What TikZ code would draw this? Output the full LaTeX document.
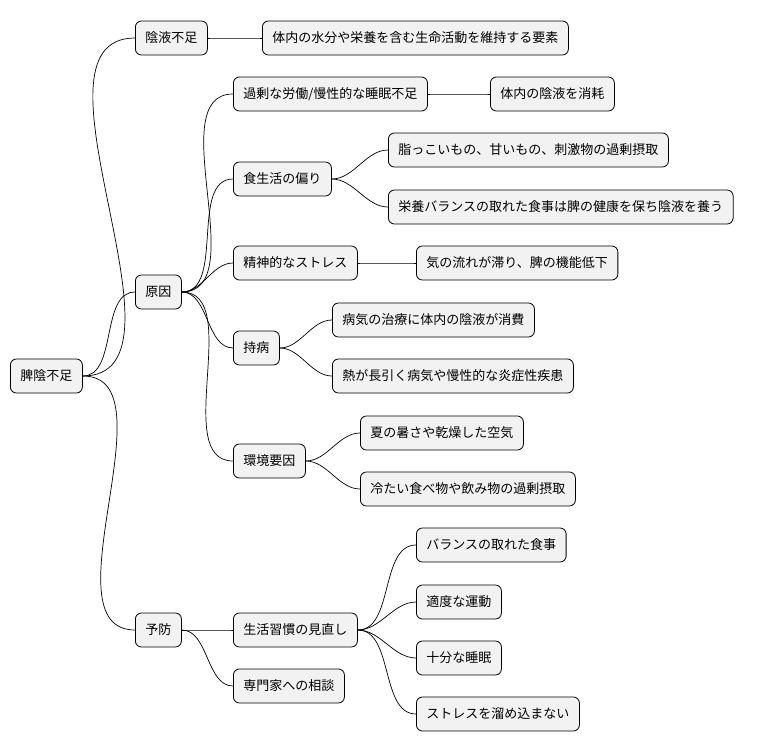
\documentclass[tikz,border=0pt]{standalone}
\usepackage{fontspec}
\newfontfamily\jp{Noto Sans CJK JP}
\begin{document}
\begin{tikzpicture}[x=1pt,y=-1pt,
  b/.style={draw=black,line width=0.8pt,fill=black!5,rounded corners=6pt,anchor=west,
    minimum height=34pt,inner xsep=10pt,font=\jp\fontsize{13}{15}\selectfont},
  l/.style={line width=0.7pt,out=0,in=180,looseness=0.9}]
\useasboundingbox (0,0) rectangle (768,752);
\node[b] (r) at (10,376) {脾陰不足};
\node[b] (a) at (135,38) {陰液不足};
\node[b] (a1) at (262,38) {体内の水分や栄養を含む生命活動を維持する要素};
\node[b] (c) at (135,292) {原因};
\node[b] (c1) at (233,94) {過剰な労働/慢性的な睡眠不足};
\node[b] (c11) at (490,94) {体内の陰液を消耗};
\node[b] (c2) at (233,179) {食生活の偏り};
\node[b] (c21) at (388,150) {脂っこいもの、甘いもの、刺激物の過剰摂取};
\node[b] (c22) at (388,207) {栄養バランスの取れた食事は脾の健康を保ち陰液を養う};
\node[b] (c3) at (233,263) {精神的なストレス};
\node[b] (c31) at (416,263) {気の流れが滞り、脾の機能低下};
\node[b] (c4) at (233,348) {持病};
\node[b] (c41) at (332,320) {病気の治療に体内の陰液が消費};
\node[b] (c42) at (332,376) {熱が長引く病気や慢性的な炎症性疾患};
\node[b] (c5) at (233,461) {環境要因};
\node[b] (c51) at (360,433) {夏の暑さや乾燥した空気};
\node[b] (c52) at (360,489) {冷たい食べ物や飲み物の過剰摂取};
\node[b] (p) at (135,630) {予防};
\node[b] (p1) at (233,630) {生活習慣の見直し};
\node[b] (p11) at (416,545) {バランスの取れた食事};
\node[b] (p12) at (416,602) {適度な運動};
\node[b] (p13) at (416,658) {十分な睡眠};
\node[b] (p14) at (416,714) {ストレスを溜め込まない};
\node[b] (p2) at (233,686) {専門家への相談};
\foreach \s/\t in {r/a,r/c,r/p,a/a1,c/c1,c/c2,c/c3,c/c4,c/c5,c1/c11,c2/c21,c2/c22,c3/c31,c4/c41,c4/c42,c5/c51,c5/c52,p/p1,p/p2,p1/p11,p1/p12,p1/p13,p1/p14}
  \draw[l] (\s.east) to (\t.west);
\end{tikzpicture}
\end{document}
